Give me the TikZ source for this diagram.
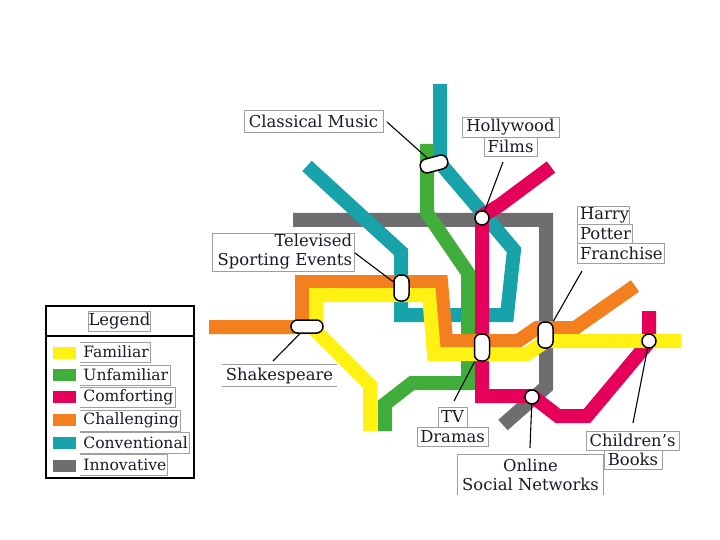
\documentclass[tikz,border=0pt]{standalone}
\usepackage{fontspec}
\setmainfont{DejaVu Serif}
\definecolor{cyel}{HTML}{FFF212}
\definecolor{cgrn}{HTML}{41AD3A}
\definecolor{cmag}{HTML}{E5005A}
\definecolor{cora}{HTML}{F47F1E}
\definecolor{ctea}{HTML}{17A3A9}
\definecolor{cgry}{HTML}{6E6E70}
\definecolor{ctxt}{HTML}{1A1A2A}
\tikzset{
  route/.style={line width=14pt,line join=miter,miter limit=10,line cap=butt},
  pill/.style={draw=black,fill=white,line width=1.5pt,rectangle,rounded corners=6.5pt,inner sep=0pt},
  stop/.style={draw=black,fill=white,line width=1.5pt,circle,inner sep=0pt,minimum size=14pt},
  lbl/.style={draw=gray!75,line width=0.7pt,inner sep=0pt,text=ctxt,font=\fontsize{16.4}{19}\selectfont,anchor=center,align=center},
  lblopen/.style={lbl,draw=none},
  edgeline/.style={draw=gray!75,line width=0.7pt},
  leader/.style={draw=black,line width=1.1pt},
  swatch/.style={inner sep=0pt,minimum width=23pt,minimum height=12pt}
}
\begin{document}
\begin{tikzpicture}[x=1pt,y=-1pt]
\useasboundingbox[fill=white] (0,0) rectangle (720,540);
% routes
\draw[route,cgry] (293,220) -- (546,220) -- (546,387) -- (503,425);
\draw[route,ctea] (307,166) -- (401,252) -- (401,315) -- (507,315) -- (514,250) -- (440,163) -- (440,84);
\draw[route,cgrn] (427,144) -- (427,213) -- (468,273) -- (468,383) -- (412,383) -- (385,404) -- (385,431);
\draw[route,cmag] (551,167) -- (500,205) -- (482,216) -- (482,396) -- (532,396) -- (558,416) -- (587,416) -- (649,342) -- (649,311);
\draw[route,cora] (209,327) -- (302,327) -- (302,282) -- (441,282) -- (446,341) -- (518,341) -- (537,328) -- (575,328) -- (635,286);
\draw[route,cyel] (370,431) -- (370,385) -- (316,331) -- (316,295) -- (429,295) -- (434,354) -- (527,354) -- (546,341) -- (681,341);
% stations
\node[pill,minimum width=28pt,minimum height=14pt,rotate=15] (sClassical) at (434,164) {};
\node[pill,minimum width=15pt,minimum height=26pt] (sSport) at (401.5,288) {};
\node[pill,minimum width=32pt,minimum height=13pt] (sShake) at (307,326.5) {};
\node[pill,minimum width=15pt,minimum height=27pt] (sTV) at (482,347.5) {};
\node[pill,minimum width=15pt,minimum height=26pt] (sHarry) at (545.5,335) {};
\node[stop] (sHolly) at (482,218) {};
\node[stop] (sOnline) at (532,397) {};
\node[stop] (sKids) at (649,341) {};
% labels
\node[lbl,minimum width=139pt,minimum height=22pt] (lClassical) at (313.5,121) {Classical Music};
\node[lbl,minimum width=97pt,minimum height=20pt] (lHolly) at (510.5,127) {Hollywood};
\node[lbl,minimum width=53pt,minimum height=19pt] (lFilms) at (510.5,146.5) {Films};
\node[lbl,minimum width=52pt,minimum height=18pt] (lHarry) at (603,215) {\makebox[46pt][l]{Harry}};
\node[lbl,minimum width=55pt,minimum height=19pt] (lPotter) at (604.5,233.5) {\makebox[49pt][l]{Potter}};
\node[lbl,minimum width=87pt,minimum height=20pt] (lFranchise) at (620.5,253) {\makebox[81pt][l]{Franchise}};
\node[lbl,minimum width=142pt,minimum height=38pt,align=right,text width=138pt] (lSport) at (283,252) {Televised\\Sporting Events};
\node[lblopen,minimum width=115pt,minimum height=21pt] (lShake) at (279.5,375.5) {Shakespeare};
\draw[edgeline] (lShake.north west) -- (lShake.north east) (lShake.south west) -- (lShake.south east);
\node[lbl,minimum width=29pt,minimum height=20pt] (lTV) at (452.5,417) {TV};
\node[lbl,minimum width=71pt,minimum height=19pt] (lDramas) at (452.5,436.5) {Dramas};
\node[lblopen,minimum width=145pt,minimum height=40pt] (lOnline) at (530.5,475) {Online\\Social Networks};
\draw[edgeline] (lOnline.south west) -- (lOnline.north west) -- (lOnline.north east) -- (lOnline.south east);
\node[lbl,minimum width=93pt,minimum height=19pt] (lChild) at (632.5,440.5) {Children's};
\node[lbl,minimum width=58pt,minimum height=19pt] (lBooks) at (633,459.5) {Books};
% leaders
\coordinate (cClassical) at (387,122);
\coordinate (cHolly) at (503,162);
\coordinate (cHarry) at (582,271);
\coordinate (cSport) at (355,253);
\coordinate (cShake) at (273,361);
\coordinate (cTV) at (454,401);
\coordinate (cOnline) at (530,448);
\coordinate (cKids) at (633,423);
\draw[leader] (cClassical) -- (sClassical);
\draw[leader] (cHolly) -- (sHolly);
\draw[leader] (cHarry) -- (sHarry);
\draw[leader] (cSport) -- (sSport);
\draw[leader] (cShake) -- (sShake);
\draw[leader] (cTV) -- (sTV);
\draw[leader] (cOnline) -- (sOnline);
\draw[leader] (cKids) -- (sKids);
% legend
\node[draw=black,line width=2pt,minimum width=148pt,minimum height=172pt,inner sep=0pt] (legendbox) at (120,392) {};
\coordinate (dl) at (46,336);
\coordinate (dr) at (194,336);
\draw[black,line width=1.5pt] (dl) -- (dr);
\node[lbl,minimum width=61pt,minimum height=20pt] (lLegend) at (119.5,321) {Legend};
\node[swatch,fill=cyel] (k1) at (64.5,352.5) {};
\node[swatch,fill=cgrn] (k2) at (64.5,375) {};
\node[swatch,fill=cmag] (k3) at (64.5,397) {};
\node[swatch,fill=cora] (k4) at (64.5,420) {};
\node[swatch,fill=ctea] (k5) at (64.5,442.5) {};
\node[swatch,fill=cgry] (k6) at (64.5,465.5) {};
\foreach \nm/\txt/\xr/\ya/\yb in {t1/Familiar/150/342/362,t2/Unfamiliar/170/365/385,t3/Comforting/175/387/407,t4/Challenging/180/410/431,t5/Conventional/189/432/453,t6/Innovative/167/454/475}{
  \coordinate (a) at (80,\ya);
  \coordinate (b) at (\xr,\yb);
  \draw[edgeline] (a) -- (\xr,\ya) -- (b) -- (80,\yb);
  \node[lblopen,anchor=west,font=\fontsize{15.6}{19}\selectfont] (\nm) at (83,{(\ya+\yb)/2}) {\txt};
}
\end{tikzpicture}
\end{document}
